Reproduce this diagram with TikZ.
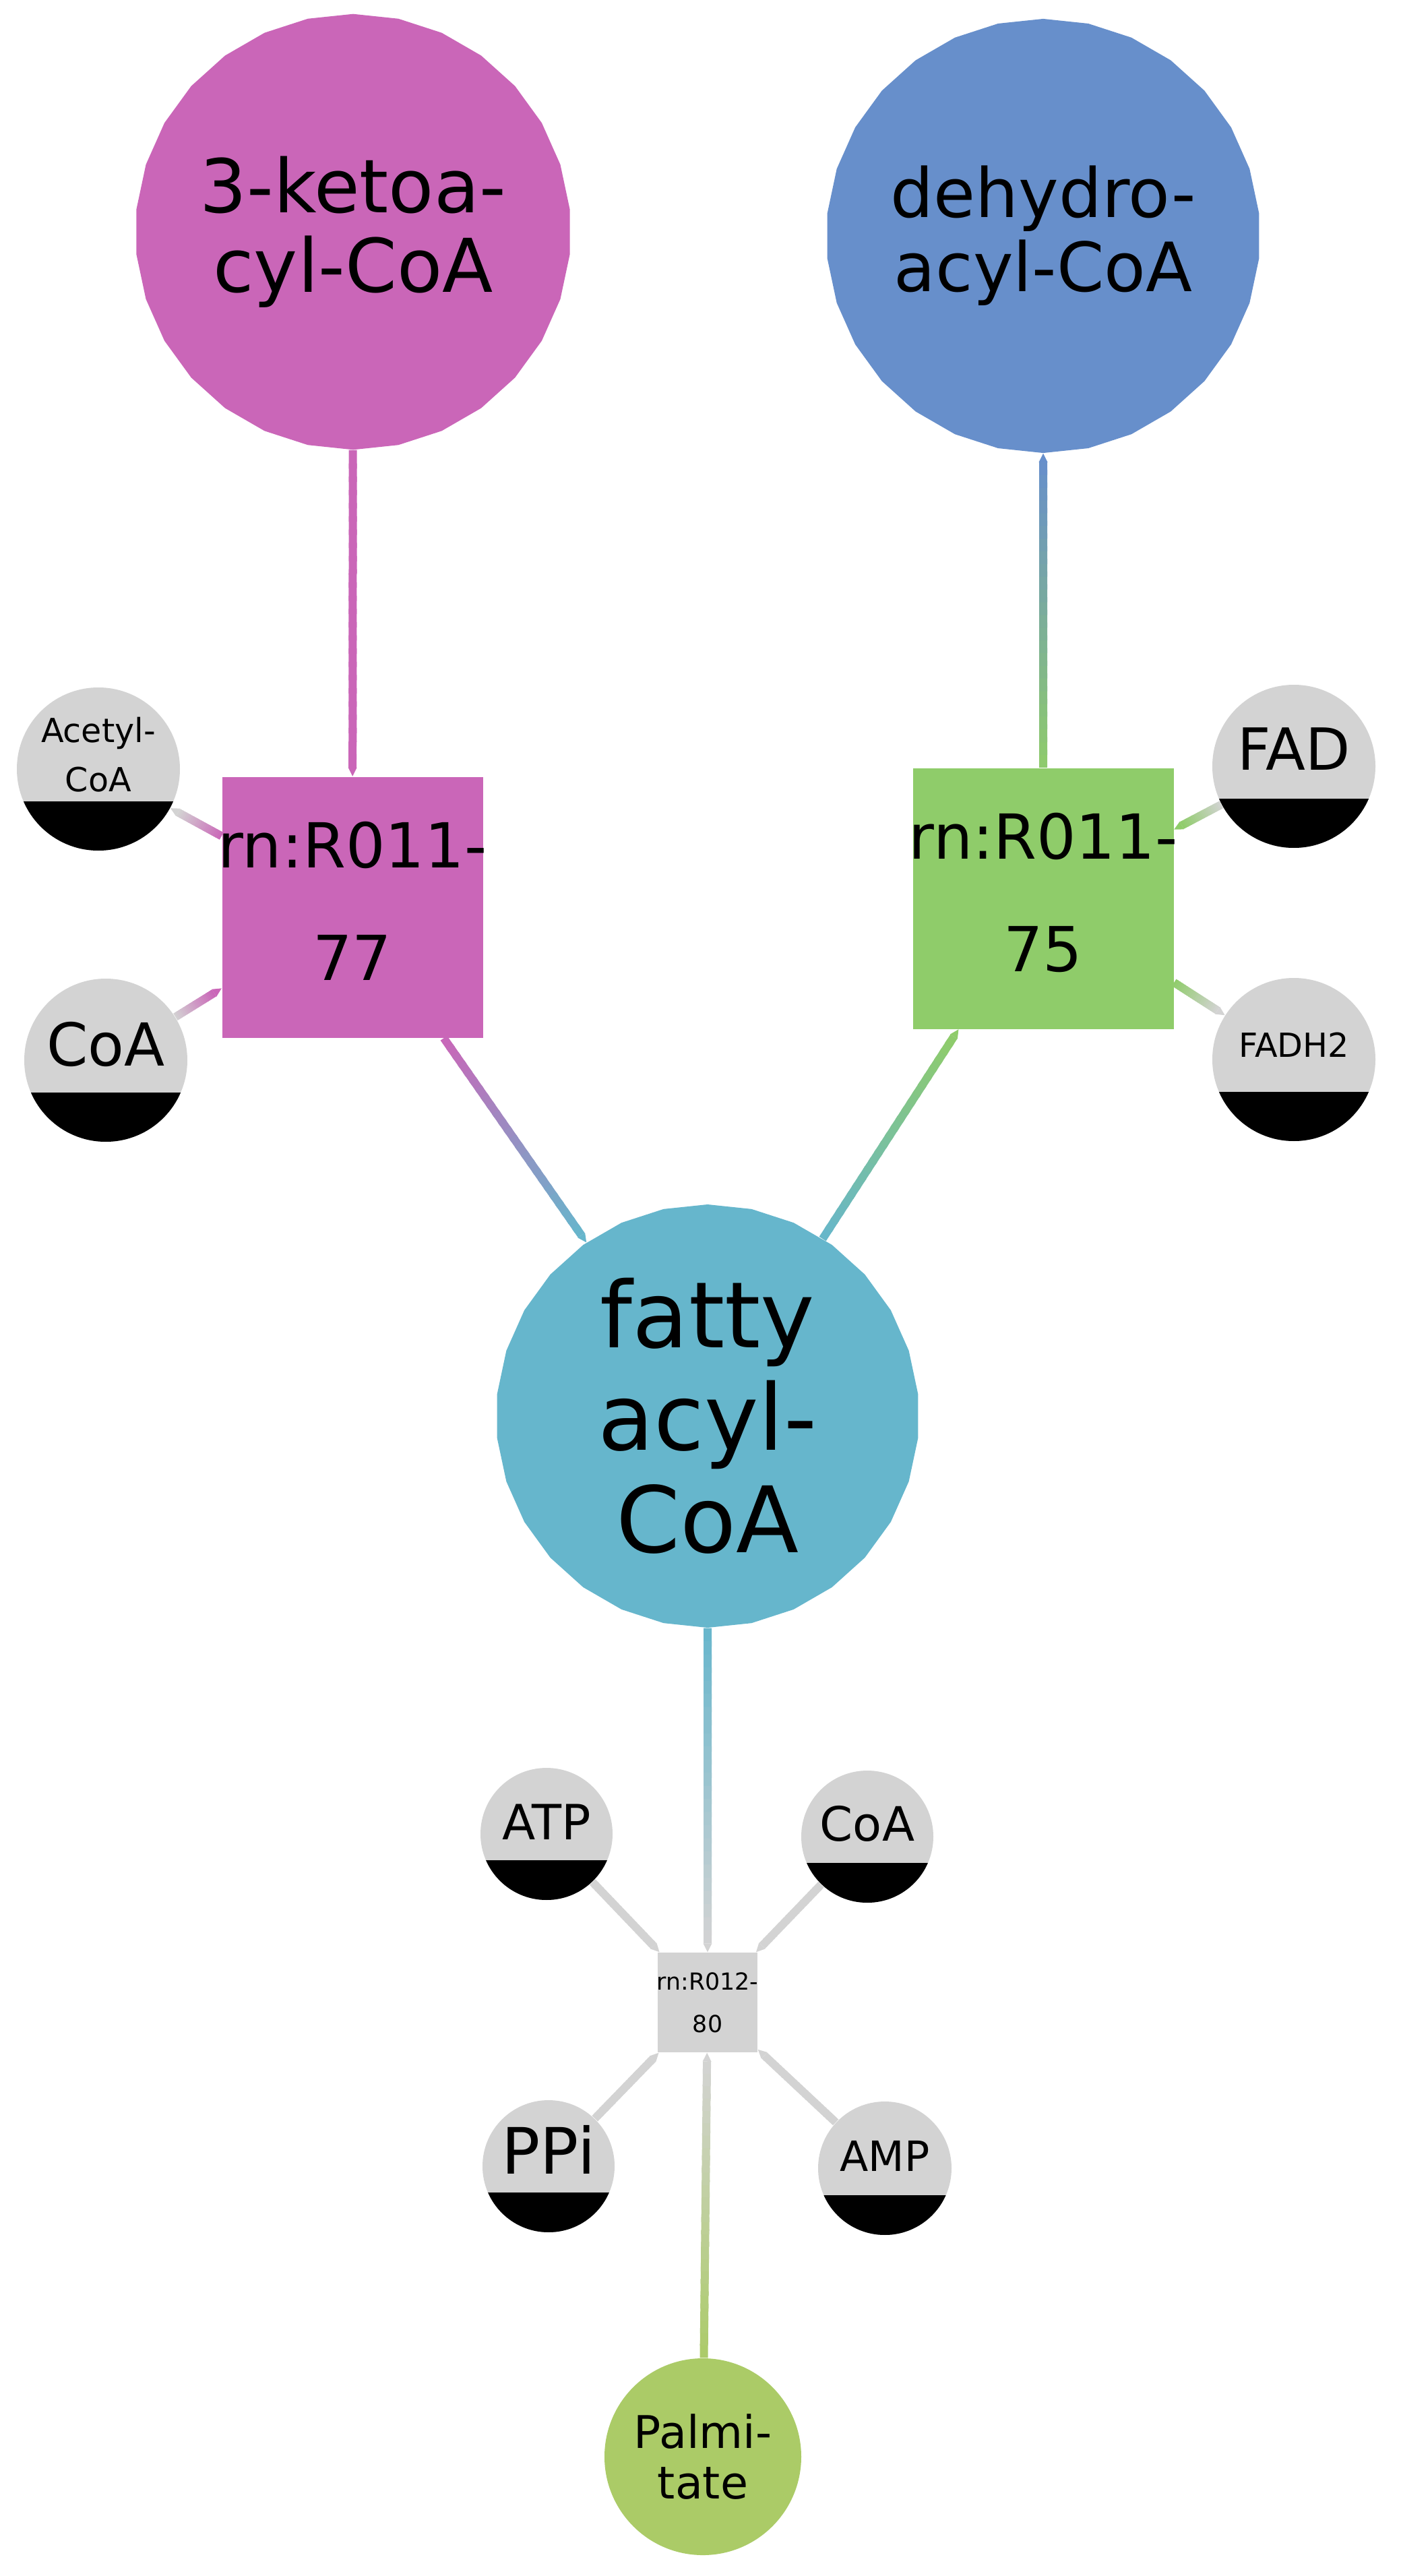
\documentclass[tikz,border=0pt]{standalone}
\usepackage{fontspec}
\setmainfont{DejaVu Sans}
\usetikzlibrary{calc,shapes.geometric}

\definecolor{ketopink}{HTML}{CA66B8}
\definecolor{enoylblue}{HTML}{678FCB}
\definecolor{fadgreen}{HTML}{8FCC6A}
\definecolor{acylcyan}{HTML}{66B6CC}
\definecolor{palmgreen}{HTML}{ABCB67}
\definecolor{poolgray}{HTML}{D3D3D3}

\tikzset{
  pool/.style={regular polygon, regular polygon sides=30, shape border rotate=6,
    minimum size=6.28cm, inner sep=0pt, align=center},
  rxn/.style={rectangle, inner sep=0pt},
  cofactor/.style={circle, inner sep=0pt, fill=poolgray,
    path picture={\fill[black] (path picture bounding box.south west) rectangle
      ($(path picture bounding box.east)!0.4!(path picture bounding box.south east)$);}},
  tag/.style={inner sep=0pt, align=center},
  link/.style={line width=0.12cm},
}

% #1 from, #2 to, #3 colour at #1, #4 colour at #2
\newcommand{\flux}[4]{%
  \path (#1) -- (#2) coordinate[pos=0] (u) coordinate[pos=1] (v);
  \coordinate (w) at ($(v)!0.13cm!(u)$);
  \foreach \k in {1,...,24}{
    \pgfmathtruncatemacro{\mix}{100-(\k-0.5)*100/24}
    \draw[link, #3!\mix!#4] ($(u)!{(\k-1)/24}!(w)$) -- ($(u)!{min(1,(\k+0.4)/24)}!(w)$);
  }
  \fill[#4] ($(w)!0.065cm!90:(v)$) -- (v) -- ($(w)!0.065cm!-90:(v)$) -- cycle;
}

\begin{document}
\begin{tikzpicture}
\useasboundingbox (0,0) rectangle (20.79,-38.22);

\node[pool, fill=ketopink, font={\fontsize{31.3}{33.6}\selectfont}] (keto) at (5.24,-3.44) {3-ketoa-\\cyl-CoA};
\node[pool, fill=enoylblue, font={\fontsize{28.7}{31.3}\selectfont}] (enoyl) at (15.48,-3.50) {dehydro-\\acyl-CoA};
\node[pool, fill=acylcyan, font={\fontsize{38.7}{43.2}\selectfont}] (acyl) at (10.50,-21.01) {fatty\\acyl-\\CoA};

\node[rxn, fill=ketopink, minimum size=3.87cm,
  label={[tag, yshift=0.09cm, font={\fontsize{26.2}{47.5}\selectfont}]center:{rn:R011-\\77}}] (r77) at (5.23,-13.46) {};
\node[rxn, fill=fadgreen, minimum size=3.87cm,
  label={[tag, yshift=0.09cm, font={\fontsize{26.2}{47.5}\selectfont}]center:{rn:R011-\\75}}] (r75) at (15.48,-13.33) {};
\node[rxn, fill=poolgray, minimum size=1.48cm,
  label={[tag, font={\fontsize{9.9}{18}\selectfont}]center:{rn:R012-\\80}}] (r80) at (10.50,-29.71) {};

\node[cofactor, minimum size=2.42cm, label={[tag, yshift=0.21cm, font={\fontsize{14}{20.8}\selectfont}]center:{Acetyl-\\CoA}}] (acetyl) at (1.46,-11.41) {};
\node[cofactor, minimum size=2.42cm, label={[tag, yshift=0.24cm, font={\fontsize{25}{30}\selectfont}]center:CoA}] (coaA) at (1.57,-15.73) {};
\node[cofactor, minimum size=2.42cm, label={[tag, yshift=0.26cm, font={\fontsize{24.5}{29}\selectfont}]center:FAD}] (fad) at (19.20,-11.37) {};
\node[cofactor, minimum size=2.42cm, label={[tag, yshift=0.22cm, font={\fontsize{14}{17}\selectfont}]center:FADH2}] (fadh) at (19.20,-15.72) {};
\node[cofactor, minimum size=1.96cm, label={[tag, yshift=0.18cm, font={\fontsize{20.5}{24}\selectfont}]center:ATP}] (atp) at (8.11,-27.21) {};
\node[cofactor, minimum size=1.96cm, label={[tag, yshift=0.19cm, font={\fontsize{20}{24}\selectfont}]center:CoA}] (coaB) at (12.87,-27.25) {};
\node[cofactor, minimum size=1.96cm, label={[tag, yshift=0.25cm, font={\fontsize{27}{32}\selectfont}]center:PPi}] (ppi) at (8.14,-32.14) {};
\node[cofactor, minimum size=1.98cm, label={[tag, yshift=0.18cm, font={\fontsize{17.6}{21}\selectfont}]center:AMP}] (amp) at (13.13,-32.17) {};

\node[circle, fill=palmgreen, minimum size=2.92cm, inner sep=0pt, align=center,
  font={\fontsize{19}{21.3}\selectfont}] (palm) at (10.43,-36.45) {Palmi-\\tate};

\flux{keto}{r77}{ketopink}{ketopink}
\flux{r77}{acyl}{ketopink}{acylcyan}
\flux{coaA}{r77}{poolgray}{ketopink}
\flux{r77}{acetyl}{ketopink}{poolgray}
\flux{acyl}{r75}{acylcyan}{fadgreen}
\flux{r75}{enoyl}{fadgreen}{enoylblue}
\flux{fad}{r75}{poolgray}{fadgreen}
\flux{r75}{fadh}{fadgreen}{poolgray}
\flux{acyl}{r80}{acylcyan}{poolgray}
\flux{palm}{r80}{palmgreen}{poolgray}
\foreach \m in {atp,coaB,ppi,amp}
  \flux{\m}{r80}{poolgray}{poolgray};
\end{tikzpicture}
\end{document}
